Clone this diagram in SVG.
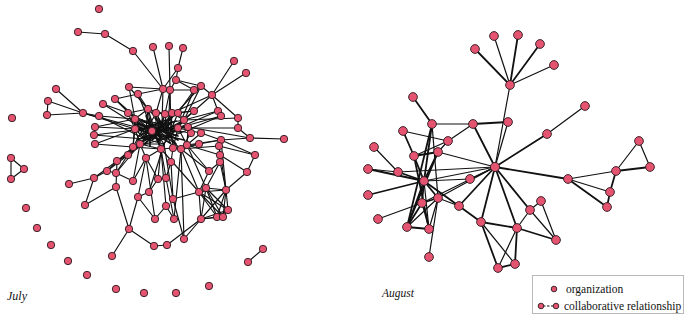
<svg xmlns="http://www.w3.org/2000/svg" width="685" height="314" viewBox="0 0 685 314">
<style>
.e path{stroke:#111;stroke-width:1.15;fill:none;stroke-linecap:round}
.e path.d{stroke-width:1.7}
.ea path{stroke:#111;stroke-width:1.2;fill:none;stroke-linecap:round}
.ea path.t{stroke-width:1.8}
.n circle{fill:#e4536f;stroke:#2a1a1e;stroke-width:0.9}
.lbl{font-family:"Liberation Serif","Times New Roman",serif;font-style:italic;fill:#111}
.lg{font-family:"Liberation Serif","Times New Roman",serif;font-size:11.5px;fill:#111}
</style>
<rect width="685" height="314" fill="#fff"/>
<g id="connectors">
<g class="e">
<path d="M78 32L105 34"/><path d="M105 34L133 51"/><path d="M133 51L163 89"/><path d="M153 47L163 89"/><path d="M169 46L170 90"/><path d="M183 48L178 68"/><path d="M178 68L176 80"/><path d="M176 80L170 90"/><path d="M178 68L163 89"/><path d="M176 80L201 86"/><path d="M176 80L194 90"/><path d="M129 87L163 89"/><path d="M163 89L170 90"/><path d="M170 90L194 90"/><path d="M194 90L201 86"/><path d="M234 61L212 95"/><path d="M246 73L212 95"/><path d="M201 86L212 95"/>
<path d="M129 87L135 119"/><path d="M129 87L148 109"/><path d="M138 94L148 109"/><path d="M138 94L150 124"/><path d="M138 94L163 89"/><path d="M163 89L156 113"/><path d="M163 89L162 124"/><path d="M170 90L165 114"/><path d="M170 90L171 130"/><path d="M170 90L168 138"/><path d="M194 90L178 113"/><path d="M194 90L178 128"/><path d="M201 86L184 120"/><path d="M201 86L156 135"/><path d="M212 95L218 111"/><path d="M212 95L184 120"/><path d="M212 95L238 118"/><path d="M212 95L172 113"/>
<path d="M56 89L83 113"/><path d="M48 101L83 113"/><path d="M47 115L83 113"/><path d="M48 101L47 115"/><path d="M83 113L99 116"/><path d="M83 113L135 129"/><path d="M83 113L143 129"/>
<path d="M115 99L135 119"/><path d="M115 99L156 135"/><path d="M115 99L138 94"/><path d="M103 104L128 113"/><path d="M103 104L143 129"/><path d="M99 116L135 119"/><path d="M99 116L145 139"/><path d="M128 113L148 109"/><path d="M128 113L135 129"/><path d="M128 113L150 124"/>
<path d="M95 127L135 129"/><path d="M95 127L135 119"/><path d="M94 135L143 129"/><path d="M94 135L145 139"/><path d="M95 144L133 147"/><path d="M95 144L135 129"/>
<path d="M194 111L178 113"/><path d="M194 111L171 130"/><path d="M218 111L184 120"/><path d="M218 111L178 128"/><path d="M221 116L178 128"/><path d="M221 116L168 138"/><path d="M238 118L238 128"/><path d="M238 118L184 120"/><path d="M238 128L178 128"/><path d="M238 128L250 138"/><path d="M250 138L284 139"/><path d="M250 138L221 140"/><path d="M250 138L188 127"/><path d="M188 127L178 128"/><path d="M188 127L187 145"/><path d="M201 133L178 128"/><path d="M201 133L187 145"/><path d="M201 133L221 140"/><path d="M191 133L181 149"/><path d="M191 133L171 130"/><path d="M221 140L187 145"/><path d="M221 140L199 144"/><path d="M219 146L181 149"/><path d="M219 146L255 155"/><path d="M255 155L221 140"/><path d="M199 144L181 149"/><path d="M199 144L173 148"/><path d="M194 111L172 113"/>
<path d="M11 158L24 169"/><path d="M24 169L11 179"/><path d="M11 158L11 179"/>
<path d="M148 109L156 113"/><path d="M148 109L135 119"/><path d="M148 109L150 124"/><path d="M156 113L165 114"/><path d="M156 113L150 124"/><path d="M156 113L162 124"/><path d="M165 114L172 113"/><path d="M165 114L162 124"/><path d="M172 113L178 113"/><path d="M172 113L184 120"/><path d="M178 113L184 120"/><path d="M135 119L143 129"/><path d="M135 119L135 129"/><path d="M135 119L150 124"/><path d="M143 129L135 129"/><path d="M143 129L150 124"/><path d="M143 129L145 139"/><path d="M135 129L133 147"/><path d="M135 129L145 139"/><path d="M156 135L150 124"/><path d="M156 135L162 124"/><path d="M156 135L145 139"/><path d="M156 135L168 138"/><path d="M156 135L161 149"/><path d="M171 130L162 124"/><path d="M171 130L168 138"/><path d="M171 130L178 128"/><path d="M178 128L184 120"/><path d="M178 128L187 145"/><path d="M133 147L140 144"/><path d="M133 147L128 155"/><path d="M140 144L145 139"/><path d="M140 144L146 158"/><path d="M161 149L164 144"/><path d="M161 149L173 148"/><path d="M173 148L181 149"/><path d="M181 149L187 145"/><path d="M164 144L168 138"/><path d="M164 144L145 139"/><path d="M146 158L161 149"/><path d="M128 155L117 161"/><path d="M150 124L162 124"/><path d="M162 124L184 120"/><path d="M150 124L168 138"/><path d="M145 139L168 138"/><path d="M148 109L145 139"/><path d="M135 119L156 135"/><path d="M143 129L156 135"/><path d="M135 129L168 138"/><path d="M133 147L156 135"/><path d="M140 144L161 149"/><path d="M140 144L164 144"/><path d="M156 113L168 138"/><path d="M165 114L168 138"/><path d="M172 113L171 130"/><path d="M178 113L171 130"/><path d="M162 124L145 139"/><path d="M135 119L162 124"/><path d="M143 129L168 138"/><path d="M150 124L161 149"/><path d="M150 124L164 144"/><path d="M148 109L156 135"/><path d="M133 147L168 138"/><path d="M133 147L161 149"/><path d="M128 155L156 135"/><path d="M117 161L145 139"/><path d="M165 114L156 135"/><path d="M172 113L156 135"/><path d="M184 120L168 138"/><path d="M184 120L156 135"/><path d="M178 113L162 124"/><path d="M148 109L165 114"/><path d="M135 119L145 139"/><path d="M135 129L140 144"/><path d="M178 128L168 138"/><path d="M178 128L173 148"/><path d="M171 130L173 148"/><path d="M171 130L164 144"/><path d="M168 138L173 148"/><path d="M168 138L181 149"/><path d="M156 113L156 135"/><path d="M150 124L145 139"/><path d="M143 129L133 147"/><path d="M128 155L140 144"/><path d="M148 109L162 124"/><path d="M135 119L133 147"/>
<path class="d" d="M138 123L170 143"/><path class="d" d="M140 135L176 121"/><path class="d" d="M146 116L160 146"/><path class="d" d="M137 140L174 126"/><path class="d" d="M142 120L178 140"/><path class="d" d="M140 128L180 132"/><path class="d" d="M145 144L170 118"/><path class="d" d="M150 118L150 146"/><path class="d" d="M136 132L166 120"/><path class="d" d="M155 118L176 144"/><path class="d" d="M142 138L168 128"/><path class="d" d="M148 126L178 136"/><path class="d" d="M138 128L160 140"/><path class="d" d="M144 122L172 130"/><path class="d" d="M152 140L172 122"/><path class="d" d="M140 142L164 130"/><path class="d" d="M158 122L160 142"/><path class="d" d="M146 132L176 128"/><path class="d" d="M150 132L184 140"/><path class="d" d="M136 124L158 128"/>
<path d="M69 184L94 178"/><path d="M94 178L107 171"/><path d="M94 178L117 161"/><path d="M107 171L133 147"/><path d="M107 171L128 155"/><path d="M116 173L133 147"/><path d="M116 173L140 144"/><path d="M107 171L116 173"/><path d="M133 181L146 158"/><path d="M133 181L140 144"/><path d="M133 181L116 173"/><path d="M116 187L85 205"/><path d="M85 205L94 178"/><path d="M116 187L129 229"/><path d="M116 187L117 161"/><path d="M138 197L129 229"/><path d="M138 197L149 192"/><path d="M138 197L146 158"/><path d="M149 192L158 179"/><path d="M149 192L164 144"/><path d="M158 179L161 149"/><path d="M158 179L146 158"/><path d="M166 178L161 149"/><path d="M166 178L171 162"/><path d="M171 162L173 148"/><path d="M171 162L173 199"/><path d="M173 199L199 192"/><path d="M173 199L184 239"/><path d="M173 199L164 144"/><path d="M166 206L155 219"/><path d="M166 206L161 149"/><path d="M155 219L138 197"/><path d="M155 219L146 158"/><path d="M174 219L166 206"/><path d="M174 219L166 178"/><path d="M174 219L181 149"/><path d="M129 229L154 246"/><path d="M129 229L112 256"/><path d="M154 246L167 245"/><path d="M167 245L201 219"/><path d="M184 239L201 219"/><path d="M184 239L181 149"/><path d="M209 171L199 192"/><path d="M209 171L187 145"/><path d="M209 171L181 149"/><path d="M220 162L220 155"/><path d="M220 162L226 190"/><path d="M220 155L219 146"/><path d="M220 155L187 145"/><path d="M247 172L226 190"/><path d="M247 172L220 155"/><path d="M247 172L255 155"/><path d="M220 162L209 171"/>
<path d="M199 192L206 188"/><path d="M199 192L226 190"/><path d="M199 192L228 210"/><path d="M199 192L217 217"/><path d="M199 192L223 217"/><path d="M199 192L201 219"/><path d="M206 188L226 190"/><path d="M206 188L228 210"/><path d="M206 188L217 217"/><path d="M206 188L223 217"/><path d="M206 188L201 219"/><path d="M226 190L228 210"/><path d="M226 190L217 217"/><path d="M226 190L223 217"/><path d="M228 210L217 217"/><path d="M228 210L223 217"/><path d="M217 217L223 217"/><path d="M201 219L217 217"/><path d="M201 219L223 217"/><path d="M226 190L201 219"/><path d="M228 210L201 219"/><path d="M199 192L181 149"/><path d="M206 188L187 145"/><path d="M226 190L219 146"/><path d="M226 190L221 140"/><path d="M206 188L220 162"/><path d="M199 192L161 149"/>
<path d="M263 249L248 262"/>
</g>
<g class="ea">
<path class="t" d="M510 85L475 49"/><path d="M510 85L494 36"/><path class="t" d="M510 85L518 35"/><path class="t" d="M510 85L540 44"/><path d="M510 85L554 65"/><path d="M510 85L495 167"/><path d="M508 122L495 167"/>
<path class="t" d="M413 97L432 124"/><path d="M432 124L473 124"/><path class="t" d="M473 124L508 122"/><path class="t" d="M473 124L495 167"/><path d="M473 124L448 141"/><path class="t" d="M432 124L424 181"/><path d="M432 124L438 198"/><path class="t" d="M432 124L407 227"/><path d="M403 131L448 141"/><path class="t" d="M403 131L414 156"/><path d="M448 141L438 152"/><path d="M448 141L414 156"/><path d="M374 147L398 172"/><path class="t" d="M414 156L438 152"/><path class="t" d="M414 156L424 181"/><path class="t" d="M438 152L424 181"/><path d="M438 152L495 167"/><path class="t" d="M414 156L429 229"/><path class="t" d="M438 152L407 227"/>
<path d="M368 169L398 172"/><path class="t" d="M398 172L424 181"/><path d="M398 172L495 167"/><path class="t" d="M368 169L424 181"/><path d="M424 181L495 167"/><path d="M424 181L470 179"/><path d="M470 179L495 167"/><path class="t" d="M368 195L424 181"/><path class="t" d="M424 181L422 203"/><path class="t" d="M424 181L438 198"/><path class="t" d="M424 181L459 206"/><path class="t" d="M424 181L407 227"/><path d="M424 181L429 229"/><path d="M438 198L459 206"/><path class="t" d="M459 206L495 167"/><path d="M378 219L422 203"/><path class="t" d="M407 227L429 229"/><path class="t" d="M407 227L422 203"/><path d="M407 227L438 198"/><path d="M429 229L422 203"/><path d="M429 229L438 198"/><path d="M429 257L438 198"/><path class="t" d="M422 203L438 198"/><path d="M438 198L495 167"/><path d="M422 203L495 167"/>
<path d="M585 106L547 134"/><path class="t" d="M547 134L495 167"/><path class="t" d="M495 167L568 179"/><path d="M568 179L616 171"/><path d="M568 179L610 192"/><path class="t" d="M568 179L607 207"/><path class="t" d="M616 171L610 192"/><path class="t" d="M610 192L607 207"/><path d="M616 171L639 141"/><path d="M639 141L650 167"/><path class="t" d="M616 171L650 167"/>
<path class="t" d="M495 167L481 222"/><path class="t" d="M495 167L517 228"/><path class="t" d="M495 167L530 210"/><path class="t" d="M459 206L481 222"/><path class="t" d="M481 222L517 228"/><path d="M517 228L530 210"/><path d="M530 210L541 201"/><path d="M541 201L556 240"/><path d="M530 210L556 240"/><path class="t" d="M517 228L556 240"/><path class="t" d="M481 222L498 268"/><path d="M481 222L515 264"/><path d="M517 228L498 268"/><path class="t" d="M517 228L515 264"/><path class="t" d="M498 268L515 264"/>
</g>
</g>
<g class="n">
<g id="j1"><circle cx="99" cy="9" r="3.7"/></g>
<g id="j2"><circle cx="78" cy="32" r="3.7"/></g>
<g id="j3"><circle cx="105" cy="34" r="3.7"/></g>
<g id="j4"><circle cx="133" cy="51" r="3.7"/></g>
<g id="j5"><circle cx="153" cy="47" r="3.7"/></g>
<g id="j6"><circle cx="169" cy="46" r="3.7"/></g>
<g id="j7"><circle cx="183" cy="48" r="3.7"/></g>
<g id="j8"><circle cx="234" cy="61" r="3.7"/></g>
<g id="j9"><circle cx="246" cy="73" r="3.7"/></g>
<g id="j10"><circle cx="178" cy="68" r="3.7"/></g>
<g id="j11"><circle cx="176" cy="80" r="3.7"/></g>
<g id="j12"><circle cx="129" cy="87" r="3.7"/></g>
<g id="j13"><circle cx="163" cy="89" r="3.7"/></g>
<g id="j14"><circle cx="170" cy="90" r="3.7"/></g>
<g id="j15"><circle cx="194" cy="90" r="3.7"/></g>
<g id="j16"><circle cx="201" cy="86" r="3.7"/></g>
<g id="j17"><circle cx="138" cy="94" r="3.7"/></g>
<g id="j18"><circle cx="212" cy="95" r="3.7"/></g>
<g id="j19"><circle cx="56" cy="89" r="3.7"/></g>
<g id="j20"><circle cx="48" cy="101" r="3.7"/></g>
<g id="j21"><circle cx="47" cy="115" r="3.7"/></g>
<g id="j22"><circle cx="83" cy="113" r="3.7"/></g>
<g id="j23"><circle cx="115" cy="99" r="3.7"/></g>
<g id="j24"><circle cx="103" cy="104" r="3.7"/></g>
<g id="j25"><circle cx="99" cy="116" r="3.7"/></g>
<g id="j26"><circle cx="12" cy="118" r="3.7"/></g>
<g id="j27"><circle cx="128" cy="113" r="3.7"/></g>
<g id="j28"><circle cx="194" cy="111" r="3.7"/></g>
<g id="j29"><circle cx="218" cy="111" r="3.7"/></g>
<g id="j30"><circle cx="221" cy="116" r="3.7"/></g>
<g id="j31"><circle cx="238" cy="118" r="3.7"/></g>
<g id="j32"><circle cx="95" cy="127" r="3.7"/></g>
<g id="j33"><circle cx="94" cy="135" r="3.7"/></g>
<g id="j34"><circle cx="95" cy="144" r="3.7"/></g>
<g id="j35"><circle cx="238" cy="128" r="3.7"/></g>
<g id="j36"><circle cx="250" cy="138" r="3.7"/></g>
<g id="j37"><circle cx="284" cy="139" r="3.7"/></g>
<g id="j38"><circle cx="201" cy="133" r="3.7"/></g>
<g id="j39"><circle cx="191" cy="133" r="3.7"/></g>
<g id="j40"><circle cx="221" cy="140" r="3.7"/></g>
<g id="j41"><circle cx="219" cy="146" r="3.7"/></g>
<g id="j42"><circle cx="255" cy="155" r="3.7"/></g>
<g id="j43"><circle cx="199" cy="144" r="3.7"/></g>
<g id="j44"><circle cx="11" cy="158" r="3.7"/></g>
<g id="j45"><circle cx="24" cy="169" r="3.7"/></g>
<g id="j46"><circle cx="11" cy="179" r="3.7"/></g>
<g id="j47"><circle cx="188" cy="127" r="3.7"/></g>
<g id="c1"><circle cx="148" cy="109" r="3.7"/></g>
<g id="c2"><circle cx="156" cy="113" r="3.7"/></g>
<g id="c3"><circle cx="165" cy="114" r="3.7"/></g>
<g id="c4"><circle cx="172" cy="113" r="3.7"/></g>
<g id="c5"><circle cx="178" cy="113" r="3.7"/></g>
<g id="c6"><circle cx="135" cy="119" r="3.7"/></g>
<g id="c8"><circle cx="135" cy="129" r="3.7"/></g>
<g id="c11"><circle cx="178" cy="128" r="3.7"/></g>
<g id="c12"><circle cx="133" cy="147" r="3.7"/></g>
<g id="c13"><circle cx="140" cy="144" r="3.7"/></g>
<g id="c14"><circle cx="161" cy="149" r="3.7"/></g>
<g id="c15"><circle cx="173" cy="148" r="3.7"/></g>
<g id="c16"><circle cx="181" cy="149" r="3.7"/></g>
<g id="c17"><circle cx="187" cy="145" r="3.7"/></g>
<g id="c19"><circle cx="146" cy="158" r="3.7"/></g>
<g id="c20"><circle cx="128" cy="155" r="3.7"/></g>
<g id="c21"><circle cx="117" cy="161" r="3.7"/></g>
<g id="c24"><circle cx="184" cy="120" r="3.7"/></g>
<g id="c25"><circle cx="152" cy="131" r="3.7"/></g>
<g id="l1"><circle cx="69" cy="184" r="3.7"/></g>
<g id="l2"><circle cx="94" cy="178" r="3.7"/></g>
<g id="l3"><circle cx="107" cy="171" r="3.7"/></g>
<g id="l4"><circle cx="116" cy="173" r="3.7"/></g>
<g id="l5"><circle cx="133" cy="181" r="3.7"/></g>
<g id="l6"><circle cx="116" cy="187" r="3.7"/></g>
<g id="l7"><circle cx="85" cy="205" r="3.7"/></g>
<g id="l8"><circle cx="138" cy="197" r="3.7"/></g>
<g id="l9"><circle cx="149" cy="192" r="3.7"/></g>
<g id="l10"><circle cx="158" cy="179" r="3.7"/></g>
<g id="l11"><circle cx="166" cy="178" r="3.7"/></g>
<g id="l12"><circle cx="171" cy="162" r="3.7"/></g>
<g id="l13"><circle cx="173" cy="199" r="3.7"/></g>
<g id="l14"><circle cx="166" cy="206" r="3.7"/></g>
<g id="l15"><circle cx="209" cy="171" r="3.7"/></g>
<g id="l16"><circle cx="220" cy="162" r="3.7"/></g>
<g id="l17"><circle cx="220" cy="155" r="3.7"/></g>
<g id="l18"><circle cx="247" cy="172" r="3.7"/></g>
<g id="l19"><circle cx="199" cy="192" r="3.7"/></g>
<g id="l20"><circle cx="206" cy="188" r="3.7"/></g>
<g id="l21"><circle cx="226" cy="190" r="3.7"/></g>
<g id="l22"><circle cx="228" cy="210" r="3.7"/></g>
<g id="l23"><circle cx="217" cy="217" r="3.7"/></g>
<g id="l24"><circle cx="223" cy="217" r="3.7"/></g>
<g id="l25"><circle cx="201" cy="219" r="3.7"/></g>
<g id="l26"><circle cx="155" cy="219" r="3.7"/></g>
<g id="l27"><circle cx="174" cy="219" r="3.7"/></g>
<g id="l28"><circle cx="129" cy="229" r="3.7"/></g>
<g id="l29"><circle cx="154" cy="246" r="3.7"/></g>
<g id="l30"><circle cx="167" cy="245" r="3.7"/></g>
<g id="l31"><circle cx="184" cy="239" r="3.7"/></g>
<g id="l32"><circle cx="112" cy="256" r="3.7"/></g>
<g id="i1"><circle cx="26" cy="208" r="3.7"/></g>
<g id="i2"><circle cx="37" cy="228" r="3.7"/></g>
<g id="i3"><circle cx="51" cy="245" r="3.7"/></g>
<g id="i4"><circle cx="68" cy="261" r="3.7"/></g>
<g id="i5"><circle cx="87" cy="275" r="3.7"/></g>
<g id="i6"><circle cx="116" cy="289" r="3.7"/></g>
<g id="i7"><circle cx="144" cy="293" r="3.7"/></g>
<g id="i8"><circle cx="176" cy="293" r="3.7"/></g>
<g id="i9"><circle cx="209" cy="286" r="3.7"/></g>
<g id="p1"><circle cx="263" cy="249" r="3.7"/></g>
<g id="p2"><circle cx="248" cy="262" r="3.7"/></g>
<g id="a1"><circle cx="475" cy="49" r="4.4"/></g>
<g id="a2"><circle cx="494" cy="36" r="4.4"/></g>
<g id="a3"><circle cx="518" cy="35" r="4.4"/></g>
<g id="a4"><circle cx="540" cy="44" r="4.4"/></g>
<g id="a5"><circle cx="554" cy="65" r="4.4"/></g>
<g id="h1"><circle cx="510" cy="85" r="4.4"/></g>
<g id="b1"><circle cx="413" cy="97" r="4.4"/></g>
<g id="b2"><circle cx="432" cy="124" r="4.4"/></g>
<g id="b3"><circle cx="473" cy="124" r="4.4"/></g>
<g id="b4"><circle cx="508" cy="122" r="4.4"/></g>
<g id="b5"><circle cx="585" cy="106" r="4.4"/></g>
<g id="b6"><circle cx="547" cy="134" r="4.4"/></g>
<g id="b7"><circle cx="639" cy="141" r="4.4"/></g>
<g id="b8"><circle cx="403" cy="131" r="4.4"/></g>
<g id="b9"><circle cx="448" cy="141" r="4.4"/></g>
<g id="b10"><circle cx="374" cy="147" r="4.4"/></g>
<g id="b11"><circle cx="414" cy="156" r="4.4"/></g>
<g id="b12"><circle cx="438" cy="152" r="4.4"/></g>
<g id="h2"><circle cx="495" cy="167" r="4.6"/></g>
<g id="b13"><circle cx="368" cy="169" r="4.4"/></g>
<g id="b14"><circle cx="398" cy="172" r="4.4"/></g>
<g id="m"><circle cx="424" cy="181" r="4.4"/></g>
<g id="b15"><circle cx="470" cy="179" r="4.4"/></g>
<g id="b16"><circle cx="568" cy="179" r="4.4"/></g>
<g id="b17"><circle cx="616" cy="171" r="4.4"/></g>
<g id="b18"><circle cx="650" cy="167" r="4.4"/></g>
<g id="b19"><circle cx="610" cy="192" r="4.4"/></g>
<g id="b20"><circle cx="607" cy="207" r="4.4"/></g>
<g id="b21"><circle cx="368" cy="195" r="4.4"/></g>
<g id="b22"><circle cx="422" cy="203" r="4.4"/></g>
<g id="b23"><circle cx="438" cy="198" r="4.4"/></g>
<g id="b24"><circle cx="459" cy="206" r="4.4"/></g>
<g id="b25"><circle cx="378" cy="219" r="4.4"/></g>
<g id="b26"><circle cx="407" cy="227" r="4.4"/></g>
<g id="b27"><circle cx="429" cy="229" r="4.4"/></g>
<g id="b28"><circle cx="481" cy="222" r="4.4"/></g>
<g id="b29"><circle cx="517" cy="228" r="4.4"/></g>
<g id="b30"><circle cx="530" cy="210" r="4.4"/></g>
<g id="b31"><circle cx="541" cy="201" r="4.4"/></g>
<g id="b32"><circle cx="556" cy="240" r="4.4"/></g>
<g id="b33"><circle cx="429" cy="257" r="4.4"/></g>
<g id="b34"><circle cx="498" cy="268" r="4.4"/></g>
<g id="b35"><circle cx="515" cy="264" r="4.4"/></g>
</g>
<text class="lbl" x="7" y="300" font-size="12">July</text>
<text class="lbl" x="382" y="297" font-size="11.5">August</text>
<g id="legend">
<rect x="532.5" y="275.5" width="151" height="38" fill="#fff" stroke="#b8b8b8" stroke-width="1"/>
<g class="n"><circle cx="554" cy="289" r="2.8"/></g>
<text class="lg" x="566" y="293">organization</text>
<path d="M543 306L553 306" stroke="#111" stroke-width="1" stroke-dasharray="2.5 1.5"/>
<g class="n"><circle cx="541" cy="306" r="2.8"/><circle cx="556" cy="306" r="2.8"/></g>
<text class="lg" x="564" y="310">collaborative relationship</text>
</g>
</svg>
